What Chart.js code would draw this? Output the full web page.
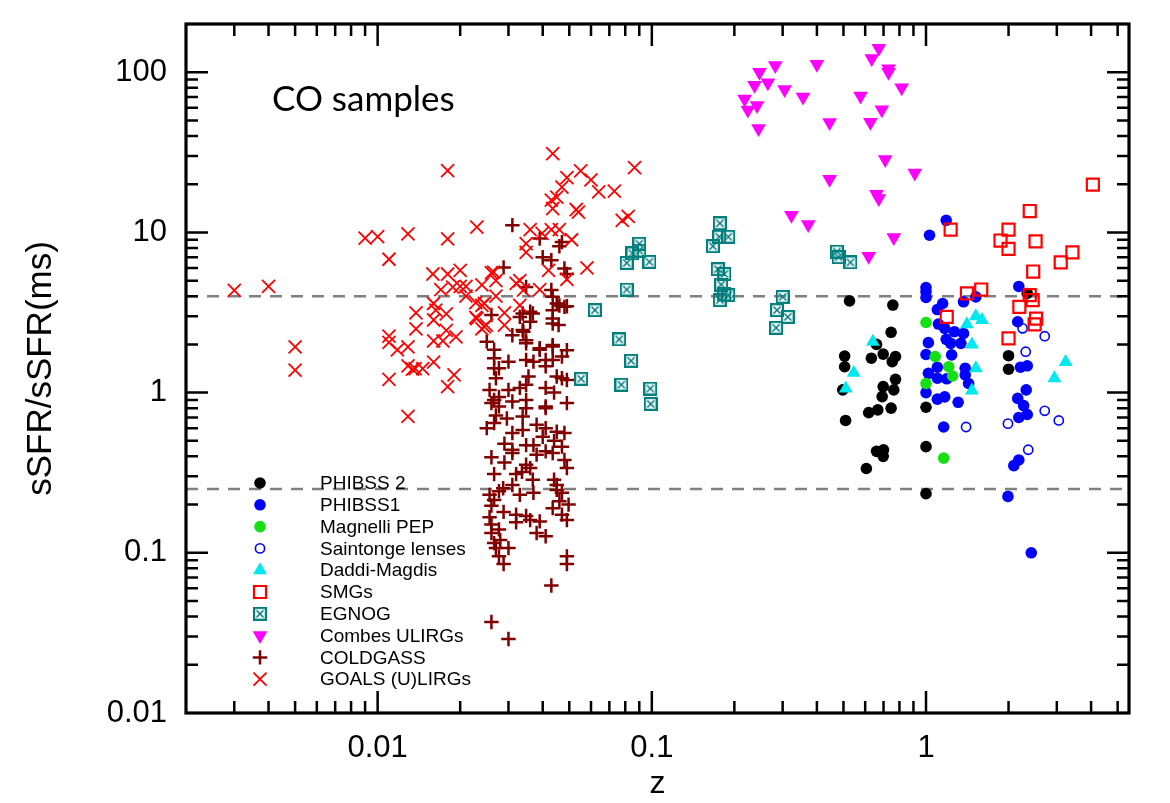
<!DOCTYPE html>
<html>
<head>
<meta charset="utf-8">
<script src="https://cdn.jsdelivr.net/npm/chart.js@4.4.1/dist/chart.umd.min.js"></script>
<style>
  html, body { margin: 0; padding: 0; background: #fff; }
  #wrap { width: 1170px; height: 803px; position: relative; }
</style>
</head>
<body>
<div id="wrap"><canvas id="chart"></canvas></div>
<script>
// [z, sSFR/sSFR(ms)]
const phibss2 = [[0.526,3.74],[0.757,3.52],[0.746,2.38],[0.505,1.69],[0.505,1.45],[0.632,1.64],[0.698,1.74],[0.774,1.68],[0.753,1.56],[0.66,2.0],[0.774,1.21],[0.698,1.09],[0.692,0.944],[0.763,1.04],[0.497,1.04],[0.618,0.75],[0.667,0.78],[0.746,0.8],[0.509,0.67],[0.66,0.43],[0.70,0.44],[0.698,0.40],[0.606,0.336],[1.0,0.46],[1.0,0.81],[2.0,1.7],[2.0,1.4],[2.34,4.16],[1.0,0.234]];
const phibss1 = [[1.185,11.9],[1.03,9.6],[1.0,4.53],[1.0,4.26],[1.0,3.93],[1.15,3.6],[1.1,3.3],[1.37,3.69],[1.52,3.96],[1.11,2.68],[1.17,2.52],[1.27,2.4],[1.37,2.34],[1.34,2.03],[1.02,2.05],[1.185,2.15],[1.23,2.03],[1.0,1.73],[1.24,1.72],[1.1,1.44],[1.02,1.32],[1.1,1.23],[1.19,1.22],[1.39,1.42],[1.39,1.29],[1.43,1.14],[1.0,1.0],[1.1,0.91],[1.17,0.94],[1.31,0.87],[1.16,0.61],[2.18,4.6],[2.16,2.77],[2.21,1.44],[2.34,1.47],[2.32,1.04],[2.16,0.92],[2.27,0.83],[2.18,0.70],[2.34,0.73],[2.09,0.35],[2.18,0.38],[1.99,0.225],[2.42,0.1]];
const magnelli = [[1.0,2.74],[1.08,1.68],[1.21,1.45],[1.25,1.27],[1.0,1.14],[1.16,0.39]];
const saintonge = [[2.25,2.52],[2.71,2.25],[2.31,1.8],[1.40,0.61],[1.99,0.64],[2.71,0.77],[3.05,0.67],[2.36,0.44]];
const daddi = [[0.64,2.08],[0.545,1.33],[0.51,1.06],[1.52,3.0],[1.6,2.84],[1.41,2.67],[1.47,2.0],[1.52,1.42],[1.47,1.03],[3.23,1.55],[2.94,1.23]];
const smgs = [[4.06,19.9],[2.39,13.6],[1.23,10.4],[2.0,10.4],[1.87,8.9],[2.0,7.9],[2.51,8.8],[3.42,7.5],[3.1,6.5],[2.46,5.7],[1.59,4.4],[1.41,4.16],[2.39,4.06],[2.45,3.78],[2.19,3.43],[1.19,2.97],[2.52,2.9],[2.49,2.67],[2.0,2.18]];
const egnog = [[0.177,11.4],[0.176,9.4],[0.19,9.4],[0.167,8.2],[0.09,8.5],[0.085,7.4],[0.09,7.7],[0.098,6.55],[0.081,6.45],[0.081,4.4],[0.174,5.9],[0.184,5.5],[0.179,4.73],[0.19,4.06],[0.177,3.78],[0.184,4.1],[0.30,3.96],[0.286,3.27],[0.313,2.97],[0.284,2.54],[0.062,3.27],[0.076,2.15],[0.084,1.58],[0.0774,1.12],[0.0987,1.06],[0.099,0.85],[0.0552,1.22],[0.473,7.6],[0.48,7.0],[0.53,6.5]];
const combes = [[0.673,141],[0.634,122],[0.73,105],[0.73,100],[0.282,110],[0.40,112],[0.247,100],[0.265,86],[0.237,83],[0.305,78],[0.356,70],[0.577,71],[0.815,80],[0.218,68],[0.242,62],[0.224,58],[0.69,58.3],[0.245,44.5],[0.445,48.5],[0.627,48.7],[0.71,28.5],[0.91,23.5],[0.445,21.5],[0.66,17.3],[0.673,16.3],[0.323,12.8],[0.372,11.2],[0.763,9.3],[0.618,7.1]];
const coldgass = [[0.026,0.037],[0.030,0.029],[0.043,0.0625],[0.049,0.095],[0.049,0.085],
  [0.0288,0.085],[0.0277,0.095],[0.030,0.107],[0.0266,0.115],[0.027,0.107],[0.028,0.12],[0.026,0.133],[0.038,0.133],[0.041,0.127],[0.0277,0.14],[0.026,0.15],[0.039,0.157],[0.036,0.16],[0.032,0.155],[0.032,0.173],[0.0348,0.17],[0.0288,0.18],[0.0256,0.167],[0.026,0.197],[0.0266,0.214],[0.0256,0.23],[0.0277,0.242],[0.033,0.23],[0.037,0.237],[0.0435,0.19],[0.047,0.173],[0.049,0.16],[0.046,0.21],[0.0497,0.2],[0.047,0.237],[0.045,0.247],[0.0287,0.253],[0.031,0.265],[0.044,0.286],[0.045,0.265],[0.0266,0.31],[0.032,0.31],[0.0336,0.32],[0.0368,0.286],
  [0.026,0.395],[0.029,0.366],[0.031,0.42],[0.0348,0.355],[0.036,0.338],[0.038,0.41],[0.041,0.43],[0.0435,0.42],[0.047,0.46],[0.048,0.38],[0.049,0.338],[0.037,0.47],[0.0348,0.47],[0.029,0.48],[0.031,0.44],[0.048,0.56],[0.045,0.57],[0.044,0.5],[0.040,0.53],[0.025,0.6],[0.0266,0.645],[0.031,0.56],[0.0338,0.585],[0.038,0.63],[0.041,0.6],[0.027,0.72],[0.0296,0.69],[0.0338,0.71],[0.049,0.86],[0.041,0.8],[0.0348,0.8],[0.031,0.88],[0.0256,1.04],[0.0266,0.9],[0.0277,0.94],[0.030,1.04],[0.033,1.07],[0.0348,1.12],[0.041,1.07],[0.044,1.0],[0.049,1.2],[0.047,1.23],[0.027,1.23],[0.0266,1.42],[0.030,1.56],[0.0348,1.6],[0.037,1.56],[0.041,1.46],[0.0435,1.6],[0.047,1.68],[0.049,1.84],[0.039,1.89],[0.0435,1.98],[0.0348,2.03],[0.025,2.08],[0.0266,1.64],[0.031,2.28],[0.034,2.4],[0.0457,2.64],[0.0435,2.7],[0.0338,3.12],[0.0368,3.12],[0.026,3.05],[0.0435,3.27],[0.049,3.46],[0.046,3.5],[0.0435,2.9],
  [0.031,11.1],[0.0288,6.05],[0.039,9.15],[0.047,8.7],[0.046,8.2],[0.040,7.0],[0.043,6.7],[0.048,5.95],[0.049,5.5],[0.0348,4.57],[0.043,4.37],[0.0435,3.96],[0.045,3.6],[0.048,3.43],[0.036,3.2],[0.033,2.97],[0.036,2.77],[0.0338,2.46],[0.0348,2.12],[0.0266,1.85],[0.039,1.85],[0.0435,1.94],[0.0277,1.42],[0.041,1.6],[0.0355,1.26],[0.045,1.26],[0.026,0.86],[0.0277,0.82],[0.0348,0.9],[0.041,0.82]];
const goals = [[0.003,4.35],[0.004,4.6],[0.005,1.93],[0.005,1.38],[0.009,9.2],[0.010,9.4],[0.0129,9.8],[0.018,24.3],[0.018,9.1],[0.023,10.8],[0.011,6.8],[0.0159,5.5],[0.018,5.5],[0.020,5.8],[0.026,5.6],[0.027,5.0],[0.017,4.4],[0.020,4.6],[0.021,4.6],[0.024,4.7],[0.021,4.0],[0.027,4.0],[0.0228,3.65],[0.024,3.5],[0.016,3.6],[0.0163,3.27],[0.0138,3.15],[0.0178,3.1],[0.016,2.84],[0.0228,2.95],[0.0249,2.64],[0.024,2.5],[0.029,3.15],[0.029,2.64],[0.0138,2.5],[0.0178,2.45],[0.0193,2.23],[0.016,2.1],[0.0173,2.1],[0.011,2.25],[0.011,2.06],[0.0118,1.85],[0.0129,1.93],[0.0129,1.47],[0.0137,1.41],[0.0146,1.41],[0.016,1.55],[0.0134,1.4],[0.011,1.21],[0.019,1.29],[0.018,1.09],[0.0129,0.71],
  [0.0435,31],[0.055,24.2],[0.049,22],[0.060,21.3],[0.0865,25.4],[0.047,19.2],[0.064,17.9],[0.073,18.1],[0.045,16.6],[0.043,15.9],[0.0435,14.1],[0.053,13.9],[0.054,13.4],[0.078,11.9],[0.082,12.6],[0.036,10.4],[0.0398,9.85],[0.043,10.4],[0.046,10.4],[0.0348,8.5],[0.0348,7.5],[0.051,9.0],[0.058,6.0],[0.042,5.8],[0.049,5.1],[0.0265,5.65],[0.032,4.8],[0.033,5.0],[0.039,4.4],[0.034,4.36],[0.0245,3.6],[0.033,3.5],[0.023,2.9],[0.0245,2.58],[0.0188,4.55]];

const seriesNames = ['PHIBSS 2', 'PHIBSS1', 'Magnelli PEP', 'Saintonge lenses', 'Daddi-Magdis', 'SMGs', 'EGNOG', 'Combes ULIRGs', 'COLDGASS', 'GOALS (U)LIRGs'];
const seriesData = [phibss2, phibss1, magnelli, saintonge, daddi, smgs, egnog, combes, coldgass, goals];
const zTicks = [0.01, 0.1, 1];
const ratioTicks = [0.01, 0.1, 1, 10, 100];
const msBand = [4, 0.25];

const FONT = '"Liberation Sans", Arial, Helvetica, sans-serif';

// crossed box marker for EGNOG
function crossedBox(size, color) {
  const c = document.createElement('canvas');
  c.width = size; c.height = size;
  const g = c.getContext('2d');
  g.strokeStyle = color;
  g.lineWidth = 2.2;
  g.strokeRect(1.1, 1.1, size - 2.2, size - 2.2);
  g.lineWidth = 1.6;
  g.beginPath();
  g.moveTo(3.5, 3.5); g.lineTo(size - 3.5, size - 3.5);
  g.moveTo(size - 3.5, 3.5); g.lineTo(3.5, size - 3.5);
  g.stroke();
  return c;
}

const markers = [
  { style: 'circle', radius: 5.8, fill: '#000000', stroke: '#000000', width: 0 },
  { style: 'circle', radius: 5.8, fill: '#0000ff', stroke: '#0000ff', width: 0 },
  { style: 'circle', radius: 5.8, fill: '#14e014', stroke: '#14e014', width: 0 },
  { style: 'circle', radius: 4.6, fill: 'rgba(0,0,0,0)', stroke: '#0000ff', width: 1.6 },
  { style: 'triangle', radius: 8, fill: '#00e8f0', stroke: '#00e8f0', width: 0 },
  { style: 'rect', radius: 8.5, fill: 'rgba(0,0,0,0)', stroke: '#ff0000', width: 2.2 },
  { style: crossedBox(14, '#007f7f'), radius: 6, fill: '#007f7f', stroke: '#007f7f', width: 0 },
  { style: 'triangle', rotation: 180, radius: 8.5, fill: '#ff00ff', stroke: '#ff00ff', width: 0 },
  { style: 'cross', radius: 7.2, fill: '#800000', stroke: '#800000', width: 2.5 },
  { style: 'crossRot', radius: 9.2, fill: '#ff0000', stroke: '#ff0000', width: 1.8 },
];

const datasets = seriesData.map((pts, i) => ({
  label: seriesNames[i],
  data: pts.map(([x, y]) => ({ x, y })),
  pointStyle: markers[i].style,
  pointRadius: markers[i].radius,
  pointRotation: markers[i].rotation || 0,
  pointBackgroundColor: markers[i].fill,
  pointBorderColor: markers[i].stroke,
  pointBorderWidth: markers[i].width,
  showLine: false,
  order: seriesNames.length - i,
}));

function logSteps(min, max) {
  const out = [];
  for (let e = Math.floor(Math.log10(min)); e <= Math.ceil(Math.log10(max)); e++) {
    for (let m = 1; m <= 9; m++) {
      const v = m * Math.pow(10, e);
      if (v > min * 1.001 && v < max / 1.001) out.push({ v, major: m === 1 });
    }
  }
  return out;
}

// keep the plot box where it is in the figure, no label overhang padding
function noOverhang(s) {
  s.paddingTop = 0; s.paddingBottom = 0; s.paddingLeft = 0; s.paddingRight = 0;
}

const bandLines = {
  id: 'bandLines',
  beforeDatasetsDraw(chart) {
    const { ctx, chartArea, scales } = chart;
    ctx.save();
    ctx.strokeStyle = '#808080';
    ctx.lineWidth = 2.5;
    ctx.setLineDash([12, 9]);
    msBand.forEach(v => {
      const y = scales.y.getPixelForValue(v);
      ctx.beginPath();
      ctx.moveTo(chartArea.left, y);
      ctx.lineTo(chartArea.right, y);
      ctx.stroke();
    });
    ctx.restore();
  }
};

const frameTicks = {
  id: 'frameTicks',
  afterDatasetsDraw(chart) {
    const { ctx, chartArea: a, scales } = chart;
    ctx.save();
    ctx.strokeStyle = '#000';
    ctx.lineWidth = 2.5;
    ctx.beginPath();
    logSteps(scales.x.min, scales.x.max).forEach(t => {
      const x = scales.x.getPixelForValue(t.v);
      const len = t.major ? 22 : 12;
      ctx.moveTo(x, a.bottom); ctx.lineTo(x, a.bottom - len);
      ctx.moveTo(x, a.top); ctx.lineTo(x, a.top + len);
    });
    logSteps(scales.y.min, scales.y.max).forEach(t => {
      const y = scales.y.getPixelForValue(t.v);
      const len = t.major ? 22 : 12;
      ctx.moveTo(a.left, y); ctx.lineTo(a.left + len, y);
      ctx.moveTo(a.right, y); ctx.lineTo(a.right - len, y);
    });
    ctx.stroke();
    ctx.lineWidth = 3.2;
    ctx.strokeRect(a.left, a.top, a.right - a.left, a.bottom - a.top);
    ctx.restore();
  }
};

const legendBox = {
  id: 'legendBox',
  afterDraw(chart) {
    const { ctx } = chart;
    const top = 483, step = 21.8, mx = 260, tx = 320;
    ctx.save();
    ctx.font = '19px ' + FONT;
    ctx.textBaseline = 'middle';
    ctx.textAlign = 'left';
    seriesNames.forEach((name, i) => {
      const y = top + i * step;
      const m = markers[i];
      ctx.fillStyle = m.fill;
      ctx.strokeStyle = m.stroke;
      ctx.lineWidth = m.width;
      Chart.helpers.drawPoint(ctx, { pointStyle: m.style, rotation: m.rotation || 0, radius: m.radius, borderWidth: m.width }, mx, y);
      ctx.fillStyle = '#000';
      ctx.fillText(name, tx, y + 1);
    });
    // panel label
    ctx.font = '35px Lato, "Open Sans", sans-serif';
    ctx.textBaseline = 'alphabetic';
    ctx.fillText('CO samples', 272, 111);
    ctx.restore();
  }
};

new Chart(document.getElementById('chart'), {
  type: 'scatter',
  data: { datasets },
  options: {
    responsive: true,
    maintainAspectRatio: false,
    animation: false,
    events: [],
    layout: { padding: { top: 24, right: 41, left: 0, bottom: 0 } },
    plugins: { legend: { display: false }, tooltip: { enabled: false } },
    scales: {
      x: {
        type: 'logarithmic',
        position: 'bottom',
        min: 0.002,
        max: 5.5,
        grid: { display: false },
        border: { display: false },
        afterBuildTicks: s => { s.ticks = zTicks.map(v => ({ value: v })); },
        afterFit: s => { s.height = 90; noOverhang(s); },
        ticks: { color: '#000', font: { size: 31, family: FONT }, padding: 9, maxRotation: 0, autoSkip: false, callback: v => String(v) },
        title: { display: true, text: 'z', color: '#000', font: { size: 32, family: FONT }, padding: { top: 0, bottom: 0 } },
      },
      y: {
        type: 'logarithmic',
        position: 'left',
        min: 0.01,
        max: 200,
        grid: { display: false },
        border: { display: false },
        afterBuildTicks: s => { s.ticks = ratioTicks.map(v => ({ value: v })); },
        afterFit: s => { s.width = 186; noOverhang(s); },
        ticks: { color: '#000', font: { size: 31, family: FONT }, padding: 11, autoSkip: false, callback: v => String(v) },
        title: { display: true, text: 'sSFR/sSFR(ms)', color: '#000', font: { size: 35, family: FONT }, padding: { top: 20, bottom: 0 } },
      },
    },
  },
  plugins: [bandLines, frameTicks, legendBox],
});
</script>
</body>
</html>
